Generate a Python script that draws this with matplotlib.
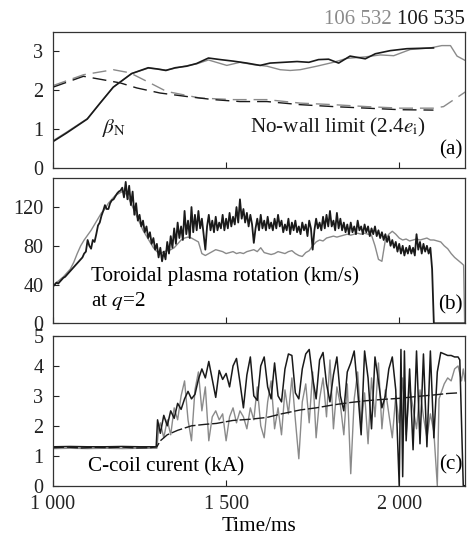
import numpy as np
import matplotlib
matplotlib.use("Agg")
import matplotlib.pyplot as plt

plt.rcParams['font.family'] = ['Liberation Serif', 'DejaVu Serif']
plt.rcParams['mathtext.fontset'] = 'stix'

# ---------------- data ----------------
# (a) beta_N and no-wall limit
beta_black_t = [1000,1039,1099,1136,1174,1227,1275,1300,1326,1353,1386,1415,1449,1483,1521,1560,
                1598,1627,1666,1705,1739,1767,1796,1825,1858,1902,1931,1974,2022,2060,2099]
beta_black = [0.68,0.90,1.26,1.67,2.08,2.43,2.58,2.55,2.51,2.58,2.62,2.69,2.83,2.79,2.75,2.70,
              2.64,2.70,2.72,2.74,2.72,2.79,2.80,2.70,2.88,2.81,2.94,3.02,3.07,3.08,3.09]
beta_gray_t = [1000,1039,1099,1136,1174,1227,1275,1300,1326,1353,1386,1415,1449,1502,1540,1579,
               1618,1656,1685,1714,1762,1810,1848,1902,1945,1984,2032,2090,2123,2148,2167,2190]
beta_gray = [0.70,0.92,1.27,1.67,2.08,2.43,2.57,2.55,2.52,2.57,2.63,2.68,2.78,2.64,2.72,2.66,
             2.62,2.53,2.51,2.53,2.62,2.72,2.82,2.86,2.91,2.89,3.05,3.09,3.15,3.15,2.88,2.77]
nw_black_t = [1000,1088,1145,1194,1242,1309,1386,1463,1540,1618,1714,1810,1906,2003,2099]
nw_black = [2.08,2.36,2.27,2.19,2.06,1.93,1.84,1.76,1.71,1.71,1.63,1.58,1.54,1.50,1.49]
nw_gray_t = [1000,1088,1174,1222,1280,1328,1425,1521,1618,1714,1810,1906,2003,2099,2128,2193]
nw_gray = [2.12,2.40,2.53,2.45,2.19,1.97,1.80,1.76,1.76,1.67,1.63,1.58,1.54,1.54,1.58,1.97]

# (b) toroidal rotation, black every 5 ms from 1000 to 2100
rot_black = [
    38, 40, 42, 41, 43, 45, 47, 48, 50, 52,
    54, 56, 58, 60, 62, 64, 66, 68, 72, 74,
    86, 80, 77, 86, 84, 92, 101, 104, 111, 116,
    122, 118, 118, 124, 127, 128, 131, 134, 136, 137,
    140, 130, 146, 128, 142, 122, 136, 112, 124, 106,
    112, 100, 106, 94, 100, 88, 94, 82, 88, 76,
    82, 68, 78, 64, 74, 66, 84, 72, 90, 78,
    98, 82, 104, 88, 100, 86, 116, 92, 106, 88,
    120, 94, 112, 96, 116, 98, 108, 92, 76, 100,
    112, 96, 106, 94, 110, 96, 104, 98, 112, 96,
    108, 98, 114, 100, 110, 102, 120, 104, 128, 108,
    118, 104, 114, 100, 112, 102, 83, 98, 108, 96,
    112, 98, 106, 96, 110, 98, 104, 96, 108, 98,
    112, 100, 106, 94, 102, 96, 108, 92, 104, 96,
    106, 94, 100, 92, 104, 96, 102, 90, 106, 98,
    76, 96, 108, 98, 104, 96, 110, 98, 112, 100,
    116, 100, 106, 96, 114, 98, 108, 96, 104, 94,
    102, 92, 104, 94, 100, 92, 106, 96, 100, 92,
    102, 94, 100, 90, 98, 92, 100, 90, 96, 88,
    94, 86, 92, 84, 90, 80, 86, 78, 84, 74,
    82, 72, 80, 70, 78, 72, 80, 72, 78, 70,
    92, 76, 84, 72, 82, 74, 80, 72, 78, 56,
    0]
rot_black_t = list(range(1000, 2101, 5))
rot_black_tail_t = [2190]
rot_black_tail = [0]
# gray every 10 ms from 1000 to 2180
rot_gray = [
    38, 42, 45, 48, 52, 56, 63, 72, 80, 86,
    91, 96, 102, 108, 114, 118, 124, 128, 132, 134,
    136, 134, 128, 120, 112, 104, 96, 90, 84, 78,
    74, 72, 74, 75, 76, 78, 82, 86, 88, 89,
    88, 86, 84, 72, 70, 72, 74, 76, 75, 74,
    72, 73, 74, 72, 73, 72, 74, 75, 76, 74,
    78, 73, 72, 71, 72, 74, 73, 72, 74, 75,
    72, 70, 69, 73, 75, 80, 84, 86, 85, 88,
    89, 90, 89, 90, 91, 92, 91, 92, 93, 92,
    93, 92, 91, 80, 66, 64, 86, 92, 95, 92,
    88, 86, 87, 85, 86, 87, 86, 87, 88, 86,
    86, 85, 84, 80, 77, 72, 68, 65, 62]
rot_gray_t = list(range(1000, 2181, 10))
rot_gray_tail_t = [2186, 2189]
rot_gray_tail = [60, 0]

# (c) C-coil current
coil_black_t = [1000,1050,1100,1150,1200,1250,1298,1302,
    1310,1320,1330,1340,1350,1360,1370,1380,1390,1400,
    1410,1420,1430,1440,1450,1460,1470,1480,1490,1500,
    1510,1520,1530,1540,1550,1560,1570,1580,1590,1600,
    1610,1620,1630,1640,1650,1660,1670,1680,1690,1700,
    1710,1720,1730,1740,1750,1760,1770,1780,1790,1800,
    1810,1820,1830,1840,1850,1860,1870,1880,1890,1900,
    1910,1920,1930,1940,1950,1960,1970,1980,1990,2000,
    2005,2010,2015,2020,2030,2040,2050,2060,2070,2080,
    2090,2100,2110,2120,2130,2140,2150,2160,2170,2175,2185,2190]
coil_black = [1.30,1.31,1.30,1.30,1.31,1.30,1.30,2.20,
    1.75,2.35,2.00,2.50,2.25,2.75,2.55,2.90,3.15,2.90,
    3.05,3.55,3.90,3.60,4.15,3.55,2.95,3.85,3.55,3.75,
    3.30,4.00,4.25,3.45,2.60,3.70,4.30,3.00,2.85,4.00,
    4.30,3.30,2.90,4.10,3.00,2.80,3.90,4.40,4.35,3.10,
    2.90,3.90,4.40,4.55,3.60,2.90,4.20,4.45,3.40,2.80,
    3.70,4.30,3.00,2.50,3.80,4.10,4.50,3.20,1.70,4.50,
    3.60,1.90,4.30,3.50,2.60,3.00,3.90,4.30,3.20,0.00,
    4.55,0.30,4.50,1.50,3.90,1.20,4.50,1.40,4.40,1.30,
    4.50,1.60,3.80,4.45,4.40,4.35,4.35,4.30,4.30,4.20,0.00,0.00]
coil_gray_t = [1000,1050,1100,1150,1200,1250,1300,1305,
    1310,1320,1330,1340,1350,1360,1370,1380,1390,1400,
    1410,1420,1430,1440,1450,1460,1470,1480,1490,1500,
    1510,1520,1530,1540,1550,1560,1570,1580,1590,1600,
    1610,1620,1630,1640,1650,1660,1670,1680,1690,1700,
    1710,1720,1730,1740,1750,1760,1770,1780,1790,1800,
    1810,1820,1830,1840,1850,1860,1870,1880,1890,1900,
    1910,1920,1930,1940,1950,1960,1970,1980,1990,2000,
    2010,2020,2030,2040,2050,2060,2070,2080,2090,2100,
    2110,2115,2130,2140,2150,2160,2170,2180,2185,2190]
coil_gray = [1.24,1.25,1.24,1.25,1.24,1.25,1.25,1.90,
    2.10,1.60,2.20,1.70,2.60,2.20,3.00,3.50,2.20,1.50,
    3.20,3.80,2.50,3.30,1.50,2.30,2.50,2.20,2.40,1.50,
    2.30,2.60,2.10,2.50,2.30,1.90,2.60,2.20,3.30,2.00,
    1.60,2.80,3.50,1.90,2.60,1.70,3.20,2.40,3.60,2.20,
    0.90,2.80,3.40,2.10,3.80,1.60,2.90,3.60,2.30,4.20,
    1.90,3.30,2.70,1.70,3.40,0.40,2.90,3.80,2.00,3.10,
    1.40,3.60,2.30,4.10,1.90,3.20,2.40,1.60,3.00,2.10,
    3.60,1.70,3.30,2.60,1.90,3.20,2.30,1.60,2.40,1.80,
    0.00,2.90,3.40,3.60,3.50,3.90,4.00,3.50,3.90,3.50]
coil_ref_t = [1000,1040,1080,1120,1160,1200,1240,1280,1300,1310,1330,1360,1400,1440,1472,1520,
              1570,1618,1660,1714,1760,1810,1860,1906,1950,2003,2050,2099,2140,2170]
coil_ref = [1.27,1.29,1.26,1.28,1.27,1.29,1.26,1.27,1.30,1.50,1.70,1.85,2.00,2.05,2.08,2.18,
            2.22,2.28,2.40,2.53,2.60,2.70,2.78,2.84,2.88,2.92,2.98,3.03,3.08,3.10]

xticks = [1000, 1500, 2000]
xticklabels = ['1 000', '1 500', '2 000']
yticks_a = [0, 1, 2, 3]
yticks_b = [0, 40, 80, 120]
yticks_c = [0, 1, 2, 3, 4, 5]

# ---------------- figure ----------------
BLACK = '#1a1a1a'
GRAY = '#8a8a8a'
W, H = 471, 538
fig = plt.figure(figsize=(W / 100, H / 100), dpi=100)

def ax_at(top, bottom, left=53, right=465):
    return fig.add_axes([left / W, 1 - bottom / H, (right - left) / W, (bottom - top) / H])

axa = ax_at(32, 168)
axb = ax_at(178, 323.3)
axc = ax_at(336, 485.7)

FS_TICK = 14.5
FS_TXT = 15.2

for ax in (axa, axb, axc):
    ax.set_xlim(1000, 2190)
    ax.set_xticks(xticks)
    ax.tick_params(direction='in', length=4, width=0.8, labelsize=FS_TICK,
                   top=False, right=False, colors='#222222')
    ax.tick_params(axis='y', pad=7)
    ax.tick_params(axis='x', pad=7)
    for s in ax.spines.values():
        s.set_linewidth(0.9)
        s.set_color('#333333')
axa.set_xticklabels([])
axb.set_xticklabels([])
axc.set_xticklabels(xticklabels)

# (a)
axa.set_ylim(0, 3.5)
axa.set_yticks(yticks_a)
axa.plot(nw_gray_t, nw_gray, color=GRAY, lw=1.0, dashes=(10, 5))
axa.plot(nw_black_t, nw_black, color=BLACK, lw=1.0, dashes=(10, 5))
axa.plot(beta_gray_t, beta_gray, color=GRAY, lw=1.0)
axa.plot(beta_black_t, beta_black, color=BLACK, lw=1.2)
axa.text(1142, 1.03, r'$\beta_{\mathrm{N}}$', fontsize=FS_TXT, ha='left', va='center', color=BLACK)
axa.text(1569, 1.03, r'No-wall limit (2.4$e_{\mathrm{i}}$)', fontsize=FS_TXT, ha='left',
         va='center', color=BLACK)
axa.text(0.995, 0.13, '(a)', transform=axa.transAxes, fontsize=FS_TXT, ha='right', va='center')

# (b)
axb.set_ylim(0, 150)
axb.set_yticks(yticks_b)
axb.plot(rot_gray_t + rot_gray_tail_t, rot_gray + rot_gray_tail, color=GRAY, lw=1.0)
axb.plot(rot_black_t + rot_black_tail_t, rot_black + rot_black_tail, color=BLACK, lw=1.3)
axb.text(1109, 48.6, 'Toroidal plasma rotation (km/s)', fontsize=FS_TXT, ha='left', va='center')
axb.text(1109, 23, r'at $q$=2', fontsize=FS_TXT, ha='left', va='center')
axb.text(0.995, 0.13, '(b)', transform=axb.transAxes, fontsize=FS_TXT, ha='right', va='center')

# (c)
axc.set_ylim(0, 5)
axc.set_yticks(yticks_c)
axc.plot(coil_gray_t, coil_gray, color=GRAY, lw=1.0)
axc.plot(coil_black_t, coil_black, color=BLACK, lw=1.1)
axc.plot(coil_ref_t, coil_ref, color=BLACK, lw=1.0, dashes=(8, 2))
axc.text(1101, 0.63, 'C-coil curent (kA)', fontsize=FS_TXT, ha='left', va='center')
axc.text(0.995, 0.14, '(c)', transform=axc.transAxes, fontsize=FS_TXT, ha='right', va='center')
axc.set_xlabel('Time/ms', fontsize=FS_TXT, labelpad=2)

# header
fig.text(465 / W, 1 - 19 / H, '106 535', fontsize=15, ha='right', va='center', color=BLACK)
fig.text(392 / W, 1 - 19 / H, '106 532', fontsize=15, ha='right', va='center', color=GRAY)

fig.savefig('out.png', dpi=100)
